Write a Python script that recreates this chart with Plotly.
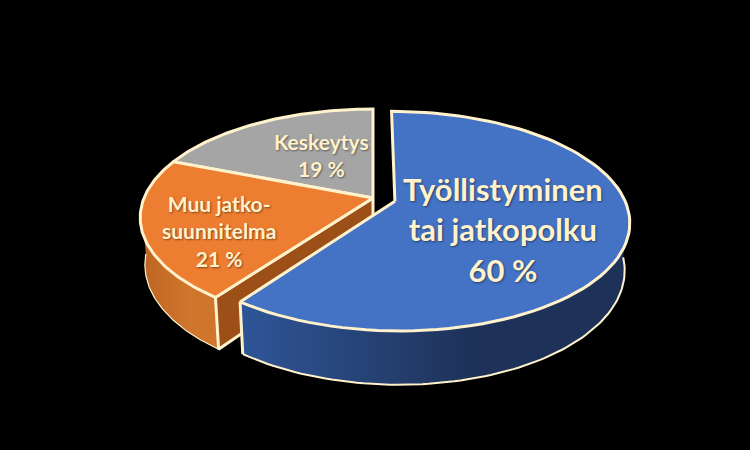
import numpy as np
import plotly.graph_objects as go

labels = ["Työllistyminen<br>tai jatkopolku<br>60 %", "Muu jatko-<br>suunnitelma<br>21 %", "Keskeytys<br>19 %"]
values = [60, 21, 19]
top_colors = ["#4472C4", "#ED7D31", "#A5A5A5"]
side_colors = [["#2F5597", "#1E3259"], ["#BE6624", "#CF752C"], ["#7F7F7F", "#7F7F7F"]]
edge_widths = [2, 1.2, 0]
explode = [0.1, 0, 0]
label_x = [503, 219, 321]
label_y = [229, 231, 155]
label_size = [31, 21, 21]

EDGE = "#FFF2CC"
CX, CY = 373, 198    # pie centre on the page
R, RY = 229, 105     # radii of the tilted disc
PERSP = 0.18         # how much the front gets bigger than the back
DEPTH = 46
SHRINK = 0.98        # bottom disc sits further away


def project(px, py, bottom=False):
    w = 1 + PERSP * py
    scale = SHRINK if bottom else 1
    sx = CX + scale * R * px / w
    sy = CY - scale * RY * py / w + (DEPTH / w if bottom else 0)
    return sx, sy


def rim(a, off, bottom=False):
    t = np.radians(a)
    return project(np.cos(t) + off[0], np.sin(t) + off[1], bottom)


def arc(a0, a1, off, bottom=False):
    return rim(np.linspace(a0, a1, 90), off, bottom)


fig = go.Figure()


def poly(x, y, fill=None, line=None, width=3, gradient=None):
    fig.add_trace(go.Scatter(
        x=x, y=y, mode="lines", fill="toself" if (fill or gradient) else None,
        fillcolor=fill, fillgradient=gradient,
        line=dict(color=line or "rgba(0,0,0,0)", width=width if line else 0),
        hoverinfo="skip", showlegend=False))


# slice angles, clockwise from twelve o'clock
slices = []
start = 90.0
for v, e in zip(values, explode):
    stop = start - v / sum(values) * 360
    mid = np.radians((start + stop) / 2)
    slices.append((start, stop, (e * np.cos(mid), e * np.sin(mid))))
    start = stop

# only the front part of the wall can be seen
LEFT_END, RIGHT_END = -175, -5

for i in [2, 1, 0]:
    a0, a1, off = slices[i]
    wall0 = min(a0, RIGHT_END)
    wall1 = max(a1, LEFT_END)
    if wall0 > wall1:
        tx, ty = arc(wall0, wall1, off)
        bx, by = arc(wall0, wall1, off, bottom=True)
        grad = dict(type="horizontal", start=float(bx.min()), stop=float(bx.min() + 0.6 * (bx.max() - bx.min())),
                    colorscale=[[0, side_colors[i][0]], [1, side_colors[i][1]]])
        poly(np.r_[tx, bx[::-1]], np.r_[ty, by[::-1]], gradient=grad)
        poly(bx, by, line=EDGE, width=edge_widths[i])
    # cut face of the orange slice shows because the blue one is pulled out
    if i == 1:
        ax, ay = project(off[0], off[1])
        abx, aby = project(off[0], off[1], bottom=True)
        sx, sy = rim(a0, off)
        fx, fy = rim(a0, off, bottom=True)
        poly([ax, sx, fx, abx, ax], [ay, sy, fy, aby, ay], fill="#9C4F17", line=EDGE)
    if i == 0:
        ex0, ey0 = rim(a1, off)
        ex1, ey1 = rim(a1, off, bottom=True)
        poly([ex0, ex1], [ey0, ey1], line=EDGE)
    # top face
    tx, ty = arc(a0, a1, off)
    ax, ay = project(off[0], off[1])
    poly(np.r_[ax, tx, ax], np.r_[ay, ty, ay], fill=top_colors[i], line=EDGE)

for text, x, y, size in zip(labels, label_x, label_y, label_size):
    fig.add_annotation(x=x, y=y, text=text, showarrow=False, align="center",
                       font=dict(family="Lato", size=size, color=EDGE, weight="bold",
                                 shadow="1px 1px 2px rgba(0,0,0,0.45)"))

fig.update_xaxes(range=[0, 750], visible=False)
fig.update_yaxes(range=[450, 0], visible=False)
fig.update_layout(width=750, height=450, margin=dict(l=0, r=0, t=0, b=0),
                  paper_bgcolor="#000000", plot_bgcolor="#000000", showlegend=False)
fig.write_html("out.html", config={"displayModeBar": False},
               post_script="document.body.style.margin='0';document.body.style.background='#000';")
